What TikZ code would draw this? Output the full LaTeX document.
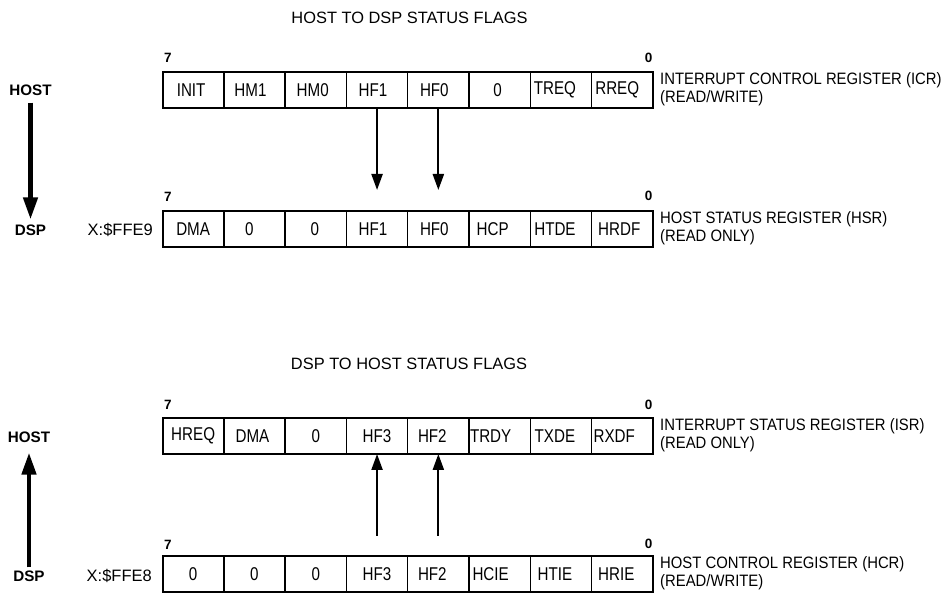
\documentclass[tikz,border=0pt]{standalone}
\usepackage{fontspec}
\setmainfont{Liberation Sans}
\newfontfamily\cellfont[FakeStretch=0.82]{Liberation Sans}
\newfontfamily\labfont[FakeStretch=0.9]{Liberation Sans}
\usetikzlibrary{arrows.meta}
\newcommand\regrow[3]{%
  \foreach \lab/\sh [count=\i from 0] in {#3} {
    \node[cell] (#1-\i) at ({162.5+61.3*\i},#2) {};
    \node[celltext] (#1-t\i) at ([xshift=\sh pt]#1-\i.center) {\lab};
  }
  \draw[line width=2pt] (162.5,#2) rectangle (652.9,#2+36);
}
\begin{document}
\begin{tikzpicture}[x=1pt,y=-1pt,
  cell/.style={draw, line width=1.5pt, minimum width=61.3pt, minimum height=36pt,
    inner sep=0pt, outer sep=0pt, anchor=north west},
  celltext/.style={font=\cellfont\fontsize{18.5}{21}\selectfont, inner sep=0pt},
  rlab/.style={font=\labfont\fontsize{16.5}{18.5}\selectfont, align=left, inner sep=0pt, anchor=west},
  ttl/.style={font=\fontsize{16.4}{19}\selectfont, inner sep=0pt},
  side/.style={font=\bfseries\fontsize{15.2}{17}\selectfont, inner sep=0pt},
  addr/.style={font=\fontsize{16.5}{19}\selectfont, inner sep=0pt, anchor=east},
  bitno/.style={font=\bfseries\fontsize{13.5}{15}\selectfont, inner sep=0pt},
  flagarrow/.style={line width=2.2pt, -{Triangle[length=16pt,width=11pt]}},
  bigarrow/.style={line width=4.5pt, -{Triangle[length=22pt,width=14pt]}}
]
\useasboundingbox (0,0) rectangle (946,593);
\fill[white] (0,0) rectangle (946,593);

% ---------- HOST TO DSP ----------
\node[ttl] (title1) at (409.5,17.5) {HOST TO DSP STATUS FLAGS};
\node[bitno] (icr7) at (168,58) {7};
\node[bitno] (icr0) at (648.5,58) {0};
\regrow{icr}{72}{INIT/-2, HM1/-4, HM0/-3, HF1/-4, HF0/-4, 0/-2, TREQ/-6, RREQ/-5}
\node[rlab] (icrlab) at (660,89) {INTERRUPT CONTROL REGISTER (ICR)\\(READ/WRITE)};

\node[bitno] (hsr7) at (168,197) {7};
\node[bitno] (hsr0) at (648.5,196) {0};
\regrow{hsr}{211}{DMA/0, 0/-5, 0/-1, HF1/-4, HF0/-4, HCP/-7, HTDE/-6, HRDF/-3}
\node[rlab] (hsrlab) at (660,228) {HOST STATUS REGISTER (HSR)\\(READ ONLY)};
\node[addr] (hsraddr) at (153,230) {X:\$FFE9};

\draw[flagarrow, shorten >=21pt] (icr-3.south) -- (hsr-3.north);
\draw[flagarrow, shorten >=21pt] (icr-4.south) -- (hsr-4.north);

\node[side] (host1) at (30.5,90) {HOST};
\node[side] (dsp1) at (30.5,230) {DSP};
\draw[bigarrow, shorten <=7pt, shorten >=5pt] (host1.south) -- (dsp1.north);

% ---------- DSP TO HOST ----------
\node[ttl] (title2) at (409,364) {DSP TO HOST STATUS FLAGS};
\node[bitno] (isr7) at (168,405) {7};
\node[bitno] (isr0) at (648.5,404.5) {0};
\regrow{isr}{418}{HREQ/0, DMA/-2, 0/0, HF3/0, HF2/-6, TRDY/-9, TXDE/-6, RXDF/-8}
\node[rlab] (isrlab) at (660,435) {INTERRUPT STATUS REGISTER (ISR)\\(READ ONLY)};

\node[bitno] (hcr7) at (168,545) {7};
\node[bitno] (hcr0) at (648.5,543.5) {0};
\regrow{hcr}{556}{0/0, 0/0, 0/0, HF3/0, HF2/-6, HCIE/-9, HTIE/-6, HRIE/-6}
\node[rlab] (hcrlab) at (660,573) {HOST CONTROL REGISTER (HCR)\\(READ/WRITE)};
\node[addr] (hcraddr) at (152,576) {X:\$FFE8};

\draw[flagarrow, shorten <=20pt] (hcr-3.north) -- (isr-3.south);
\draw[flagarrow, shorten <=20pt] (hcr-4.north) -- (isr-4.south);

\node[side] (host2) at (29,437) {HOST};
\node[side] (dsp2) at (29,576) {DSP};
\draw[bigarrow, shorten <=3pt, shorten >=10pt] (dsp2.north) -- (host2.south);
\end{tikzpicture}
\end{document}
